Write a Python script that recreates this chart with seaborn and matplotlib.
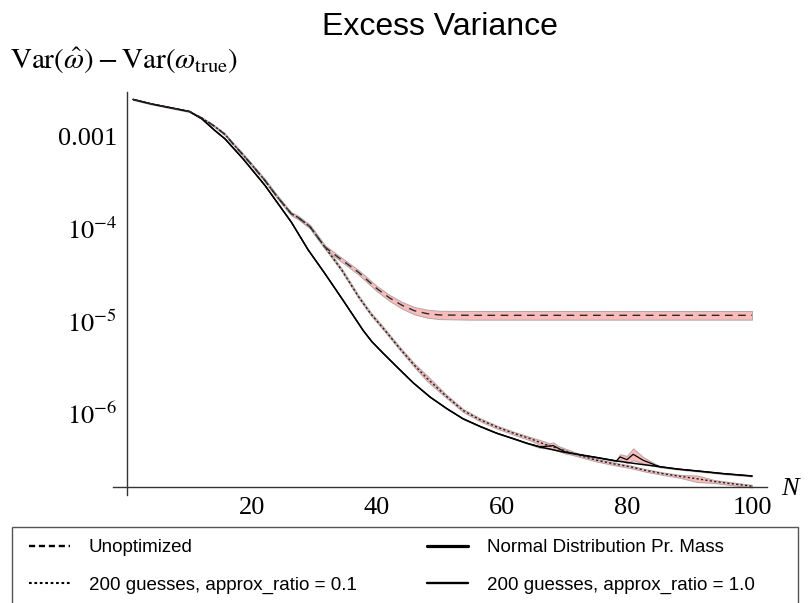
import numpy as np
import pandas as pd
import matplotlib
matplotlib.use("Agg")
import matplotlib.pyplot as plt
import seaborn as sns
from matplotlib.lines import Line2D
from matplotlib.patches import Rectangle
from matplotlib.ticker import MultipleLocator, LogLocator, NullFormatter

# ---------------- data ----------------
title = "Excess Variance"
ylabel = r"$\mathrm{Var}(\hat{\omega}) - \mathrm{Var}(\omega_{\mathrm{true}})$"
xlabel = "N"

labels = ["Unoptimized", "200 guesses, approx_ratio = 0.1",
          "Normal Distribution Pr. Mass", "200 guesses, approx_ratio = 1.0"]

x_ticks = [20, 40, 60, 80, 100]
y_ticks = [1e-3, 1e-4, 1e-5, 1e-6]
y_ticklabels = ["0.001", r"$10^{-4}$", r"$10^{-5}$", r"$10^{-6}$"]

# Unoptimized (dashed, with band)
n_unopt = [1, 4, 7, 10, 12, 14, 15.7, 17, 18.6, 20, 22, 24, 26.3, 27.4, 29.3,
           31.7, 33.8, 37, 40, 42, 44, 46, 48, 50, 55, 60, 70, 80, 90, 100]
v_unopt = [2.51e-3, 2.24e-3, 2.04e-3, 1.86e-3, 1.58e-3, 1.29e-3, 1.05e-3, 8.3e-4,
           6.3e-4, 4.9e-4, 3.39e-4, 2.24e-4, 1.45e-4, 1.32e-4, 1.05e-4,
           6.3e-5, 4.9e-5, 3.39e-5, 2.24e-5, 1.78e-5, 1.48e-5, 1.29e-5, 1.20e-5,
           1.16e-5, 1.15e-5, 1.15e-5, 1.15e-5, 1.15e-5, 1.15e-5, 1.15e-5]
s_unopt = [0.004, 0.004, 0.004, 0.005, 0.006, 0.008, 0.01, 0.01, 0.012, 0.012, 0.014,
           0.015, 0.016, 0.017, 0.018, 0.02, 0.022, 0.024, 0.028, 0.032, 0.036,
           0.04, 0.043, 0.045, 0.047, 0.047, 0.047, 0.047, 0.047, 0.047]

# 200 guesses, approx_ratio = 0.1 (dotted, with band)
n_r01 = [1, 4, 7, 10, 12, 14, 15.7, 17, 18.6, 20, 22, 24, 26.3, 27.4, 29.3, 31.7,
         34.4, 37, 39, 41.3, 43.7, 46, 48, 51, 53.8, 56.5, 59.2, 62, 64.5, 67,
         69.8, 72.5, 75.2, 78, 80.5, 83, 85.8, 88.5, 91.2, 94, 96.5, 100]
v_r01 = [2.51e-3, 2.24e-3, 2.04e-3, 1.86e-3, 1.58e-3, 1.29e-3, 1.05e-3, 8.3e-4,
         6.3e-4, 4.9e-4, 3.39e-4, 2.24e-4, 1.45e-4, 1.32e-4, 1.05e-4, 6.3e-5,
         3.55e-5, 1.86e-5, 1.20e-5, 7.9e-6, 5.0e-6, 3.31e-6, 2.40e-6, 1.55e-6,
         1.07e-6, 8.5e-7, 7.08e-7, 6.03e-7, 5.31e-7, 4.57e-7, 3.98e-7, 3.47e-7,
         3.09e-7, 2.82e-7, 2.63e-7, 2.40e-7, 2.21e-7, 2.07e-7, 1.95e-7, 1.82e-7,
         1.73e-7, 1.62e-7]
s_r01 = [0.004, 0.004, 0.004, 0.005, 0.006, 0.008, 0.01, 0.01, 0.012, 0.012, 0.014,
         0.015, 0.016, 0.017, 0.018, 0.018, 0.016, 0.016, 0.016, 0.016, 0.016,
         0.02, 0.03, 0.018, 0.016, 0.016, 0.016, 0.016, 0.018, 0.03, 0.025, 0.016,
         0.014, 0.014, 0.014, 0.014, 0.014, 0.016, 0.035, 0.016, 0.016, 0.014]

# Normal Distribution Pr. Mass (solid)
n_norm = [1, 4, 7, 10, 12, 14, 15.7, 18.6, 22.1, 26.3, 29, 31.7, 34.6, 37.8, 39.2,
          41, 43.2, 45.8, 48.5, 51.2, 53.8, 56.5, 59.1, 61.8, 64, 66.1, 69.8, 72.5,
          75.2, 78.3, 81.8, 85.3, 88.2, 91.2, 95.6, 100]
v_norm = [2.51e-3, 2.24e-3, 2.04e-3, 1.86e-3, 1.55e-3, 1.17e-3, 9.4e-4, 5.7e-4,
          2.94e-4, 1.18e-4, 5.9e-5, 3.25e-5, 1.67e-5, 7.9e-6, 5.96e-6, 4.47e-6,
          3.18e-6, 2.14e-6, 1.50e-6, 1.12e-6, 8.7e-7, 7.2e-7, 6.1e-7, 5.31e-7,
          4.73e-7, 4.31e-7, 3.80e-7, 3.55e-7, 3.31e-7, 3.04e-7, 2.82e-7, 2.63e-7,
          2.48e-7, 2.37e-7, 2.21e-7, 2.09e-7]

# 200 guesses, approx_ratio = 1.0 (solid, with band)
n_r10 = [1, 4, 7, 10, 12, 14, 15.7, 18.6, 22.1, 26.3, 29, 31.7, 34.6, 37.8, 39.2,
         41, 43.2, 45.8, 48.5, 51.2, 53.8, 56.5, 59.1, 61.8, 64, 66.1, 68.2, 70.1,
         72.5, 75.2, 78.3, 78.9, 80.0, 81.0, 82.6, 84.5, 85.3, 88.2, 91.2, 95.6, 100]
v_r10 = [2.51e-3, 2.24e-3, 2.04e-3, 1.86e-3, 1.55e-3, 1.17e-3, 9.4e-4, 5.7e-4,
         2.94e-4, 1.18e-4, 5.9e-5, 3.25e-5, 1.67e-5, 7.9e-6, 5.96e-6, 4.47e-6,
         3.18e-6, 2.14e-6, 1.50e-6, 1.12e-6, 8.7e-7, 7.2e-7, 6.1e-7, 5.31e-7,
         4.73e-7, 4.31e-7, 4.46e-7, 3.80e-7, 3.55e-7, 3.31e-7, 3.04e-7, 3.36e-7,
         3.14e-7, 3.59e-7, 3.09e-7, 2.75e-7, 2.63e-7, 2.48e-7, 2.37e-7, 2.21e-7,
         2.09e-7]
s_r10 = [0.003] * 25 + [0.01, 0.035, 0.015, 0.006, 0.005, 0.006, 0.03, 0.04,
                        0.065, 0.035, 0.012, 0.006, 0.005, 0.005, 0.005, 0.005]

# ---------------- styling ----------------
sns.set_theme(style="white")
plt.rcParams["font.family"] = ["Liberation Serif", "DejaVu Serif"]
plt.rcParams["mathtext.fontset"] = "stix"
plt.rcParams["text.color"] = "black"
plt.rcParams["axes.labelcolor"] = "black"
plt.rcParams["xtick.color"] = "black"
plt.rcParams["ytick.color"] = "black"

W, H = 808, 603
fig = plt.figure(figsize=(W / 100, H / 100), dpi=100)
fig.patch.set_facecolor("white")
ax = fig.add_axes([113 / W, 1 - 495 / H, (767 - 113) / W, (495 - 92) / H])
ax.set_facecolor("white")

band_face = "#fabbbb"
band_edge = "#b5a5a5"


def band(n, v, s):
    v = np.asarray(v)
    s = np.asarray(s)
    ax.fill_between(n, v * 10 ** (-s), v * 10 ** s, facecolor=band_face,
                    edgecolor=band_edge, linewidth=0.7, zorder=1)


band(n_unopt, v_unopt, s_unopt)
band(n_r01, v_r01, s_r01)
band(n_r10, v_r10, s_r10)

df_norm = pd.DataFrame({"N": n_norm, "v": v_norm})
df_r10 = pd.DataFrame({"N": n_r10, "v": v_r10})
df_r01 = pd.DataFrame({"N": n_r01, "v": v_r01})
df_unopt = pd.DataFrame({"N": n_unopt, "v": v_unopt})

sns.lineplot(data=df_norm, x="N", y="v", ax=ax, color="black", linewidth=1.1,
             zorder=3, legend=False)
sns.lineplot(data=df_r10, x="N", y="v", ax=ax, color="black", linewidth=0.9,
             zorder=3, legend=False)
sns.lineplot(data=df_r01, x="N", y="v", ax=ax, color="#222222", linewidth=1.0,
             linestyle=(0, (1.6, 1.6)), zorder=3, legend=False)
sns.lineplot(data=df_unopt, x="N", y="v", ax=ax, color="#2a2a2a", linewidth=1.0,
             linestyle=(0, (5.5, 4.0)), zorder=3, legend=False)

ax.set_yscale("log")
ax.set_xlim(-2.2, 102.4)
ax.set_ylim(10 ** -6.886, 10 ** -2.52)

for side in ["top", "right"]:
    ax.spines[side].set_visible(False)
ax.spines["left"].set_position(("data", 0))
ax.spines["bottom"].set_position(("data", 10 ** -6.8))
for side in ["left", "bottom"]:
    ax.spines[side].set_color("#333333")
    ax.spines[side].set_linewidth(1.0)

ax.set_xticks(x_ticks)
ax.set_xticklabels([str(t) for t in x_ticks])
ax.xaxis.set_minor_locator(MultipleLocator(5))
ax.set_yticks(y_ticks)
ax.set_yticklabels(y_ticklabels)
ax.yaxis.set_minor_locator(LogLocator(base=10, subs=np.arange(2, 10)))
ax.yaxis.set_minor_formatter(NullFormatter())

ax.tick_params(axis="both", which="major", direction="in", length=5, width=0.9,
               color="#333333", labelsize=19, labelcolor="black", pad=7)
ax.tick_params(axis="both", which="minor", direction="in", length=3, width=0.7,
               color="#333333")
ax.tick_params(axis="y", which="major", pad=7)
ax.set_xlabel("")
ax.set_ylabel("")
ax.grid(False)

fig.text(781 / W, 1 - 489 / H, xlabel, fontsize=19, style="italic",
         family="Liberation Serif", ha="left", va="center", color="black")
fig.text(440 / W, 1 - 27 / H, title, fontsize=23, family="Liberation Sans",
         ha="center", va="center", color="black")
fig.text(10 / W, 1 - 69 / H, ylabel, fontsize=21, ha="left", va="baseline",
         color="black")

handles = [
    Line2D([], [], color="black", linewidth=1.7, linestyle=(0, (2.6, 1.6))),
    Line2D([], [], color="black", linewidth=1.5, linestyle=(0, (1.3, 1.3))),
    Line2D([], [], color="black", linewidth=2.3),
    Line2D([], [], color="black", linewidth=1.7),
]
leg = fig.legend(handles=handles, labels=labels, loc="upper left",
                 bbox_to_anchor=(29 / W, 1 - 539 / H), ncol=2, frameon=False,
                 borderpad=0, borderaxespad=0,
                 prop={"family": "Liberation Sans", "size": 13.5},
                 handlelength=2.2, handletextpad=1.0, labelspacing=1.1,
                 columnspacing=3.75)
for t in leg.get_texts():
    t.set_color("black")
fig.add_artist(Rectangle((12 / W, -0.01), (798 - 12) / W, (1 - 527 / H) + 0.01,
                         transform=fig.transFigure, fill=False,
                         edgecolor="#555555", linewidth=1.0))

fig.savefig("out.png", dpi=100, facecolor="white")
